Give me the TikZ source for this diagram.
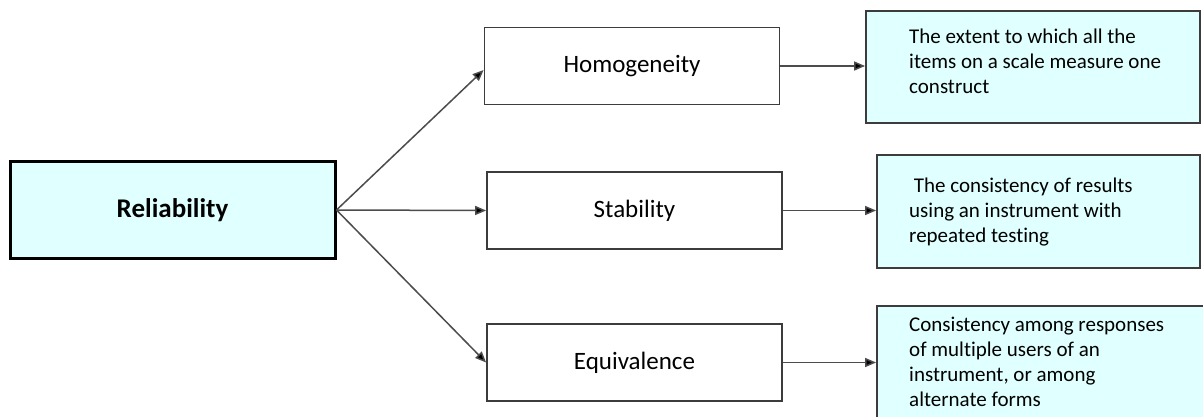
\documentclass[tikz,border=0pt]{standalone}
\usepackage{fontspec}
\setmainfont{Carlito}[Ligatures=CommonOff]
\usetikzlibrary{arrows.meta}
\definecolor{boxcyan}{RGB}{224,255,255}
\definecolor{edgegray}{RGB}{60,60,60}
\begin{document}
\begin{tikzpicture}[x=1pt, y=-1pt,
    root/.style={draw=black, line width=3pt, fill=boxcyan, minimum width=325pt,
      minimum height=97pt, font=\fontsize{27}{30}\selectfont\bfseries},
    kind/.style={draw=edgegray, line width=1.8pt, fill=white, minimum width=295pt,
      minimum height=77pt, font=\fontsize{25}{30}\selectfont},
    defbox/.style={draw=edgegray, line width=1.8pt, fill=boxcyan},
    deftext/.style={anchor=north west, align=left, inner sep=0pt,
      font=\fontsize{21}{25}\selectfont},
    link/.style={line width=1.5pt, draw=black!70,
      -{Triangle[length=11pt, width=9pt, fill=black]}}]
    \clip (0,0) rectangle (1203,416);
    \fill[white] (0,0) rectangle (1203,416);
    % main concept
    \node[root] (rel) at (172.5,210) {Reliability};
    % forms of reliability
    \node[kind] (homog) at (632,66) {Homogeneity};
    \node[kind] (stab) at (634.5,210.5) {Stability};
    \node[kind] (equiv) at (634.5,362.5) {Equivalence};
    % definitions
    \node[defbox, minimum width=334pt, minimum height=112pt] (def1) at (1033,67) {};
    \node[defbox, minimum width=323pt, minimum height=113pt] (def2) at (1038.5,211.5) {};
    \node[defbox, minimum width=329pt, minimum height=134pt] (def3) at (1041.5,373) {};
    \node[deftext] (txt1) at (909,29)
      {The extent to which all the\\items on a scale measure one\\construct};
    \node[deftext] (txt2) at (909,178)
      {\ The consistency of results\\using an instrument with\\repeated testing};
    \node[deftext] (txt3) at (909,317)
      {Consistency among responses\\of multiple users of an\\instrument, or among\\alternate forms};
    % connectors
    \draw[link] (rel.east) -- ([yshift=-4pt]homog.west);
    \draw[link] (rel.east) -- (stab.west);
    \draw[link] (rel.east) -- (equiv.west);
    \draw[link] (homog.east) -- (homog.east -| def1.west);
    \draw[link] (stab.east) -- (stab.east -| def2.west);
    \draw[link] (equiv.east) -- (equiv.east -| def3.west);
  \end{tikzpicture}
\end{document}
